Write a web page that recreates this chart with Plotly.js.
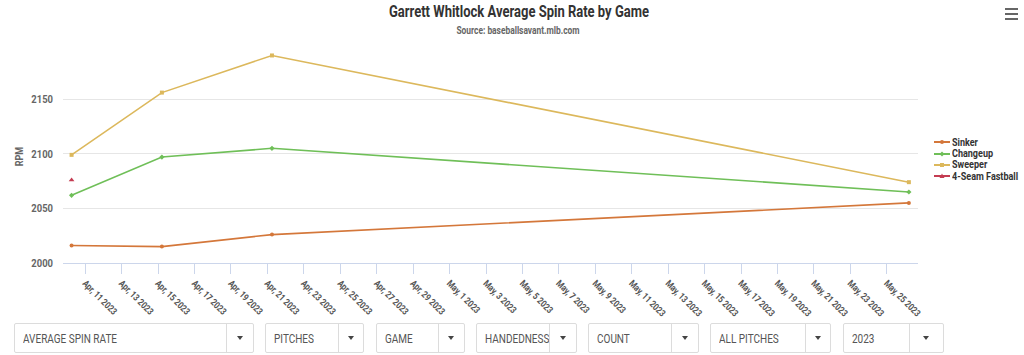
<!DOCTYPE html>
<html><head><meta charset="utf-8">
<script src="https://cdn.plot.ly/plotly-3.0.1.min.js"></script>
<style>
html,body{margin:0;padding:0;background:#fff;}
#wrap{position:relative;width:1024px;height:355px;overflow:hidden;}
#chart{position:absolute;left:0;top:0;width:1024px;height:355px;}
.ctl{position:absolute;top:323px;height:30px;border:1px solid #dcdcdc;border-radius:2px;box-sizing:border-box;background:#fff;
 font-family:Roboto,sans-serif;font-size:12.5px;color:#555;}
.ctl .t{position:absolute;left:8px;top:7px;transform:scaleX(0.8);transform-origin:left center;white-space:nowrap;}
.ctl .d{position:absolute;top:0;bottom:0;border-left:1px solid #dcdcdc;}
.ctl .a{position:absolute;top:12px;width:0;height:0;border-left:3.5px solid transparent;border-right:3.5px solid transparent;border-top:4px solid #444;}
#legend{position:absolute;left:934px;top:136px;font-family:Roboto,sans-serif;font-weight:bold;font-size:10.5px;color:#333;}
.li{height:11.4px;line-height:11.4px;white-space:nowrap;overflow:visible;}
.li svg{vertical-align:middle;margin-right:2px;}
.li span{display:inline-block;height:11.4px;line-height:11.4px;vertical-align:middle;transform:scaleX(0.86);transform-origin:left center;}
#menu{position:absolute;left:1005px;top:8px;width:13px;}
#menu div{height:2px;background:#666;margin-bottom:3px;}
</style>
</head><body>
<div id="wrap">
<div id="chart"></div>
<div id="legend"></div>
<div id="menu"><div></div><div></div><div></div></div>
<div id="controls"></div>
</div>
<script>
// ---- data ----
const gameDates = ["2023-04-10 06:00", "2023-04-15 05:00", "2023-04-21 06:00", "2023-05-26 05:00"];
const seriesNames = ["Sinker", "Changeup", "Sweeper", "4-Seam Fastball"];
const sinker   = [2016, 2015, 2026, 2055];
const changeup = [2062, 2097, 2105, 2065];
const sweeper  = [2099, 2156, 2190, 2074];
const fastball = [2076, null, null, null];
const yTicks = [2000, 2050, 2100, 2150];
const controlLabels = ["AVERAGE SPIN RATE", "PITCHES", "GAME", "HANDEDNESS", "COUNT", "ALL PITCHES", "2023"];

// ---- style ----
const colors = ["#d4773a", "#6fbf58", "#dcb85c", "#c43c52"];
const symbols = ["circle", "diamond", "square", "triangle-up"];
const values = [sinker, changeup, sweeper, fastball];

const traces = seriesNames.map((n, i) => ({
  type: "scatter", mode: "lines+markers", name: n, x: gameDates, y: values[i],
  connectgaps: false,
  line: {color: colors[i], width: 1.6},
  marker: {color: colors[i], size: i === 3 ? 5 : 4, symbol: symbols[i]},
  showlegend: false
}));

const fontC = 'Roboto,sans-serif';

const layout = {
  width: 1024, height: 355,
  margin: {l: 63, r: 106, t: 50, b: 91.7},
  paper_bgcolor: "#fff", plot_bgcolor: "#fff",
  showlegend: false,
  title: {text: "<b>Garrett Whitlock Average Spin Rate by Game</b>",
    font: {family: fontC, size: 17, color: "#333"},
    x: 519/1024, xanchor: "center", xref: "container",
    y: 1 - 11/355, yanchor: "middle", yref: "container"},
  annotations: [{
    text: "<b>Source: baseballsavant.mlb.com</b>", xref: "paper", yref: "paper",
    x: (518-63)/855, y: (263.3-30)/213.3, xanchor: "center", yanchor: "middle", showarrow: false,
    font: {family: fontC, size: 10.5, color: "#666"}
  }],
  xaxis: {
    type: "date",
    range: ["2023-04-09 18:43", "2023-05-26 17:02"],
    tick0: "2023-04-11", dtick: 2*86400000,
    tickformat: "%b, %-d %Y",
    tickangle: 45,
    ticks: "outside", ticklen: 10, tickcolor: "#ccd6eb", tickwidth: 1,
    showline: true, linecolor: "#ccd6eb", linewidth: 1,
    showgrid: false, zeroline: false,
    tickfont: {family: fontC, size: 9.5, color: "#555", weight: "bold"}
  },
  yaxis: {
    range: [2000, 2195],
    tickvals: yTicks, ticktext: yTicks.map(String),
    showgrid: true, gridcolor: "#e6e6e6", gridwidth: 1,
    zeroline: false, showline: false, ticks: "",
    ticklabelstandoff: 9,
    tickfont: {family: fontC, size: 11.5, color: "#666", weight: "bold"},
    title: {text: "<b>RPM</b>", font: {family: fontC, size: 11, color: "#666"}, standoff: 0}
  }
};

function condense(sel, f) {
  document.querySelectorAll(sel).forEach(t => {
    const w = t.getComputedTextLength();
    if (w > 0) { t.setAttribute("textLength", (w * f).toFixed(2)); t.setAttribute("lengthAdjust", "spacingAndGlyphs"); }
  });
}

Plotly.newPlot("chart", traces, layout, {displayModeBar: false, staticPlot: true}).then(() => {
  condense("#chart .gtitle", 0.765);
  condense("#chart .annotation-text", 0.8);
  condense("#chart .xtick text", 0.82);
  condense("#chart .ytick text", 0.82);
  condense("#chart .ytitle", 0.82);
});

// legend
const leg = document.getElementById("legend");
seriesNames.forEach((n, i) => {
  const d = document.createElement("div"); d.className = "li";
  let mk;
  if (symbols[i] === "circle") mk = `<circle cx="8" cy="4" r="2" fill="${colors[i]}"/>`;
  else if (symbols[i] === "diamond") mk = `<polygon points="8,1.5 10.5,4 8,6.5 5.5,4" fill="${colors[i]}"/>`;
  else if (symbols[i] === "square") mk = `<rect x="6" y="2" width="4" height="4" fill="${colors[i]}"/>`;
  else mk = `<polygon points="8,1.5 10.5,6 5.5,6" fill="${colors[i]}"/>`;
  d.innerHTML = `<svg width="16" height="8"><line x1="0" y1="4" x2="16" y2="4" stroke="${colors[i]}" stroke-width="2"/>${mk}</svg><span>${n}</span>`;
  leg.appendChild(d);
});

// controls
const boxes = [[14,254,225],[265,364,337],[376,465,437],[476,577,548],[588,699,670],[710,831,804],[843,944,908]];
const ctl = document.getElementById("controls");
controlLabels.forEach((t, i) => {
  const b = boxes[i];
  const e = document.createElement("div"); e.className = "ctl";
  e.style.left = b[0] + "px"; e.style.width = (b[1]-b[0]) + "px";
  const dx = b[2]-b[0];
  e.innerHTML = `<span class="t">${t}</span><span class="d" style="left:${dx}px"></span><span class="a" style="left:${dx + (b[1]-b[2])/2 - 4}px"></span>`;
  ctl.appendChild(e);
});
</script>
</body></html>
